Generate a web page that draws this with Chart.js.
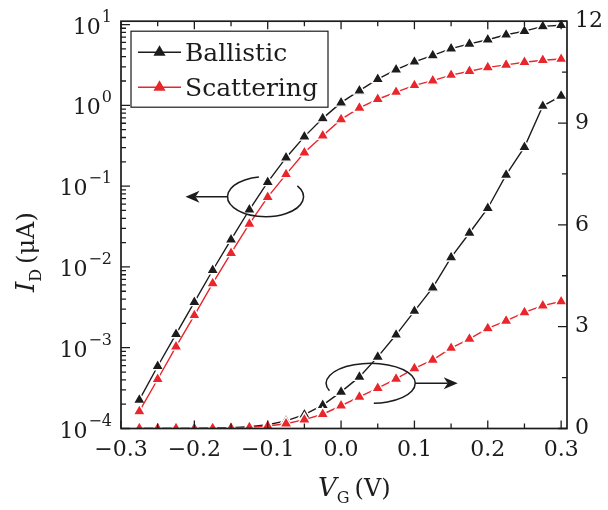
<!DOCTYPE html>
<html>
<head>
<meta charset="utf-8">
<script src="https://cdn.jsdelivr.net/npm/chart.js@4/dist/chart.umd.min.js"></script>
<style>
  html, body { margin: 0; padding: 0; background: #fff; }
  canvas { display: block; }
</style>
</head>
<body>
<canvas id="c" width="608" height="510"></canvas>
<script>
'use strict';

/* ── Data ───────────────────────────────────────────────────────────────── */
const vg = [-0.275, -0.25, -0.225, -0.2, -0.175, -0.15, -0.125, -0.1, -0.075, -0.05, -0.025, 0,
            0.025, 0.05, 0.075, 0.1, 0.125, 0.15, 0.175, 0.2, 0.225, 0.25, 0.275, 0.3];

// I_D in µA
const ballistic  = [2.26e-4, 5.9e-4, 1.47e-3, 3.67e-3, 9.1e-3, 0.0217, 0.051, 0.112, 0.225, 0.41, 0.69, 1.08,
                    1.52, 2.11, 2.76, 3.46, 4.15, 5.04, 5.76, 6.49, 7.47, 8.29, 9.5, 9.8];
const scattering = [1.63e-4, 4.07e-4, 1.03e-3, 2.52e-3, 6.25e-3, 0.0148, 0.034, 0.073, 0.14, 0.26, 0.42, 0.67,
                    0.93, 1.19, 1.46, 1.77, 2.02, 2.37, 2.64, 2.95, 3.17, 3.42, 3.62, 3.74];

const seriesNames = ['Ballistic', 'Scattering'];
const xTicks   = [-0.3, -0.2, -0.1, 0, 0.1, 0.2, 0.3];
const logTicks = [1e-4, 1e-3, 1e-2, 1e-1, 1, 10];
const linTicks = [0, 3, 6, 9, 12];

/* ── Style ──────────────────────────────────────────────────────────────── */
const INK   = '#1c1c1c';
const RED   = '#e8262b';
const FONT  = 'DejaVu Serif';

const pts = arr => vg.map((x, i) => ({ x, y: arr[i] }));

function ds(label, data, color, axis) {
  return {
    label, data: pts(data), yAxisID: axis,
    borderColor: color, backgroundColor: color, borderWidth: 1.4,
    pointStyle: 'triangle', pointRadius: 7, pointBorderColor: '#fff',
    pointBorderWidth: 1.4, pointBackgroundColor: color, tension: 0,
    clip: { left: 6, top: 6, right: 6, bottom: 0 },
  };
}

/* ── Frame, inward ticks, log labels, titles, legend, ellipse markers ──── */
const decor = {
  id: 'decor',
  afterDraw(chart) {
    const { ctx, chartArea: a, scales } = chart;
    const { x, yL, yR } = scales;
    ctx.save();
    ctx.strokeStyle = INK;
    ctx.fillStyle = INK;

    // inward ticks
    ctx.lineWidth = 1.3;
    ctx.beginPath();
    for (let v = -0.3; v <= 0.3001; v += 0.05) {
      const px = x.getPixelForValue(v);
      const major = Math.abs(v * 10 - Math.round(v * 10)) < 1e-6;
      const len = major ? 8 : 5;
      ctx.moveTo(px, a.bottom); ctx.lineTo(px, a.bottom - len);
      ctx.moveTo(px, a.top);    ctx.lineTo(px, a.top + len);
    }
    for (let e = -4; e <= 1; e++) {
      for (let m = 1; m <= 9; m++) {
        const v = m * Math.pow(10, e);
        if (v > yL.max) break;
        const py = yL.getPixelForValue(v);
        ctx.moveTo(a.left, py); ctx.lineTo(a.left + (m === 1 ? 9 : 5), py);
      }
    }
    for (let v = 0; v <= 12; v += 1.5) {
      const py = yR.getPixelForValue(v);
      ctx.moveTo(a.right, py); ctx.lineTo(a.right - (v % 3 === 0 ? 9 : 5), py);
    }
    ctx.stroke();

    // frame
    ctx.lineWidth = 1.7;
    ctx.strokeRect(a.left, a.top, a.right - a.left, a.bottom - a.top);

    // log-axis labels: 10 with a raised exponent
    ctx.textBaseline = 'alphabetic';
    ctx.textAlign = 'right';
    logTicks.forEach(v => {
      const py = yL.getPixelForValue(v);
      const ex = String(Math.round(Math.log10(v))).replace('-', '−');
      ctx.font = `16px ${FONT}`;
      const w = ctx.measureText(ex).width;
      ctx.fillText(ex, a.left - 9, py - 3);
      ctx.font = `22px ${FONT}`;
      ctx.fillText('10', a.left - 10 - w, py + 9);
    });

    // axis titles with subscripts
    ctx.textAlign = 'left';
    const title = (main, sub, rest, x0, y0) => {
      ctx.font = `italic 26px ${FONT}`;
      ctx.fillText(main, x0, y0);
      let cx = x0 + ctx.measureText(main).width;
      ctx.font = `16px ${FONT}`;
      ctx.fillText(sub, cx, y0 + 7);
      cx += ctx.measureText(sub).width + 5;
      ctx.font = `24px ${FONT}`;
      ctx.fillText(rest, cx, y0);
    };
    title('V', 'G', '(V)', 318, 496);
    ctx.save();
    ctx.translate(34, 292);
    ctx.rotate(-Math.PI / 2);
    title('I', 'D', '(μA)', 0, 0);
    ctx.restore();

    // legend
    const lx = a.left + 10, ly = a.top + 10;
    ctx.lineWidth = 1.2;
    ctx.strokeRect(lx, ly, 197, 76);
    [INK, RED].forEach((col, i) => {
      const yy = ly + 21 + i * 35;
      ctx.strokeStyle = col; ctx.fillStyle = col; ctx.lineWidth = 1.4;
      ctx.beginPath(); ctx.moveTo(lx + 7, yy); ctx.lineTo(lx + 50, yy); ctx.stroke();
      const r = 7, cx = lx + 28.5;
      ctx.beginPath();
      ctx.moveTo(cx, yy - r);
      ctx.lineTo(cx + r * 0.866, yy + r / 2);
      ctx.lineTo(cx - r * 0.866, yy + r / 2);
      ctx.closePath(); ctx.fill();
      ctx.fillStyle = INK;
      ctx.font = `25px ${FONT}`;
      ctx.fillText(seriesNames[i], lx + 54, yy + 9);
    });

    // ellipse + arrow markers (positioned in data space)
    ctx.strokeStyle = INK; ctx.fillStyle = INK; ctx.lineWidth = 1.5;
    const deg = d => d * Math.PI / 180;
    const arrow = (x0, x1, y) => {
      ctx.beginPath(); ctx.moveTo(x0, y); ctx.lineTo(x1 + (x1 < x0 ? 10 : -10), y); ctx.stroke();
      const s = x1 < x0 ? 1 : -1;
      ctx.beginPath();
      ctx.moveTo(x1, y);
      ctx.lineTo(x1 + s * 14, y - 6);
      ctx.lineTo(x1 + s * 10, y);
      ctx.lineTo(x1 + s * 14, y + 6);
      ctx.closePath(); ctx.fill();
    };
    let ex = x.getPixelForValue(-0.103), ey = yL.getPixelForValue(0.074);
    ctx.beginPath(); ctx.ellipse(ex, ey, 38, 20, 0, deg(-33), deg(260)); ctx.stroke();
    arrow(ex - 38, ex - 80, ey);
    ex = x.getPixelForValue(0.0404); ey = yR.getPixelForValue(1.33);
    ctx.beginPath(); ctx.ellipse(ex, ey, 44.5, 20, 0, deg(158), deg(446)); ctx.stroke();
    arrow(ex + 44.5, ex + 87, ey);

    ctx.restore();
  },
};

const tickFont = { family: FONT, size: 22 };

new Chart(document.getElementById('c'), {
  type: 'line',
  data: {
    datasets: [
      ds('Scattering', scattering, RED, 'yL'),
      ds('Scattering', scattering, RED, 'yR'),
      ds('Ballistic', ballistic, INK, 'yL'),
      ds('Ballistic', ballistic, INK, 'yR'),
    ],
  },
  options: {
    responsive: false,
    animation: false,
    layout: { padding: { top: 14, left: 0, right: 0, bottom: 0 } },
    plugins: { legend: { display: false }, tooltip: { enabled: false } },
    scales: {
      x: {
        type: 'linear', min: -0.3, max: 0.308,
        grid: { display: false, drawTicks: false }, border: { display: false },
        afterBuildTicks: s => { s.ticks = xTicks.map(v => ({ value: v })); },
        afterFit: s => { s.height = 81.5; },
        ticks: {
          autoSkip: false, maxRotation: 0, padding: 9, color: INK, font: tickFont,
          callback: v => (v < 0 ? '−' : '') + Math.abs(v).toFixed(1),
        },
      },
      yL: {
        type: 'logarithmic', position: 'left', min: 1e-4, max: 11,
        grid: { display: false, drawTicks: false }, border: { display: false },
        afterBuildTicks: s => { s.ticks = logTicks.map(v => ({ value: v })); },
        afterFit: s => { s.width = 121; },
        ticks: { display: false },
      },
      yR: {
        type: 'linear', position: 'right', min: 0, max: 12,
        grid: { display: false, drawTicks: false }, border: { display: false },
        afterBuildTicks: s => { s.ticks = linTicks.map(v => ({ value: v })); },
        afterFit: s => { s.width = 41; },
        ticks: { autoSkip: false, padding: 8, color: INK, font: tickFont },
      },
    },
  },
  plugins: [decor],
});
</script>
</body>
</html>
